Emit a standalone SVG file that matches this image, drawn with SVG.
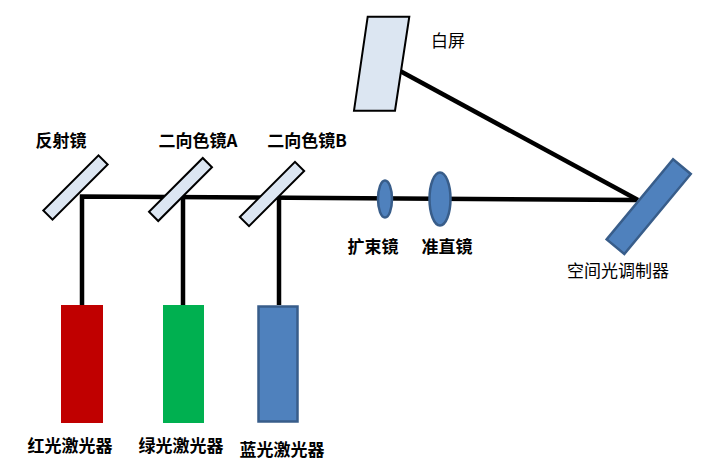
<svg xmlns="http://www.w3.org/2000/svg" width="707" height="469" viewBox="0 0 707 469">
<style>
text{font-family:"Noto Sans CJK SC","Liberation Sans",sans-serif;font-size:17px;fill:#000}
.b{font-weight:bold}
.beam{stroke:#000;stroke-width:4.5;fill:none}
.mirror{fill:#dce6f2;stroke:#000;stroke-width:2}
.blue{fill:#4f81bd;stroke:#385d8a;stroke-width:2.5}
</style>
<rect width="707" height="469" fill="#fff"/>
<g id="connectors">
<path class="beam" d="M82,305 V196.5 L637,200"/>
<path class="beam" d="M183,305 V197"/>
<path class="beam" d="M279,305 V197.5"/>
<path class="beam" d="M401,71.5 L638,200"/>
</g>
<g id="mirror-reflect">
<rect class="mirror" x="-39" y="-6.5" width="78" height="13" transform="translate(75.5,187.5) rotate(-45)"/>
<text class="b" x="61" y="147" text-anchor="middle">反射镜</text>
</g>
<g id="dichroic-a">
<rect class="mirror" x="-38" y="-6.5" width="76" height="13" transform="translate(180.5,189.5) rotate(-45)"/>
<text class="b" x="198" y="147" text-anchor="middle">二向色镜A</text>
</g>
<g id="dichroic-b">
<rect class="mirror" x="-39" y="-6.5" width="78" height="13" transform="translate(272,194) rotate(-45)"/>
<text class="b" x="307" y="147" text-anchor="middle">二向色镜B</text>
</g>
<g id="screen">
<polygon class="mirror" points="367.7,16.7 409.3,16.7 395,110.7 354,110.7" stroke-width="1.5"/>
<text x="448" y="47" text-anchor="middle">白屏</text>
</g>
<g id="expander">
<ellipse class="blue" cx="385" cy="199" rx="7" ry="18.5"/>
<text class="b" x="373" y="253" text-anchor="middle">扩束镜</text>
</g>
<g id="collimator">
<ellipse class="blue" cx="440" cy="199" rx="10.5" ry="26.5"/>
<text class="b" x="447" y="253" text-anchor="middle">准直镜</text>
</g>
<g id="slm">
<rect class="blue" x="-52" y="-11.5" width="104" height="23" transform="translate(648.7,206.7) rotate(-50.3)"/>
<text x="618" y="277" text-anchor="middle">空间光调制器</text>
</g>
<g id="red-laser">
<rect x="61" y="305" width="42" height="118" fill="#c00000"/>
<text class="b" x="70" y="452" text-anchor="middle">红光激光器</text>
</g>
<g id="green-laser">
<rect x="163" y="305" width="41" height="118" fill="#00b050"/>
<text class="b" x="181" y="452" text-anchor="middle">绿光激光器</text>
</g>
<g id="blue-laser">
<rect class="blue" x="258.5" y="306.5" width="39" height="115" stroke-width="3"/>
<text class="b" x="282" y="456" text-anchor="middle">蓝光激光器</text>
</g>
</svg>
